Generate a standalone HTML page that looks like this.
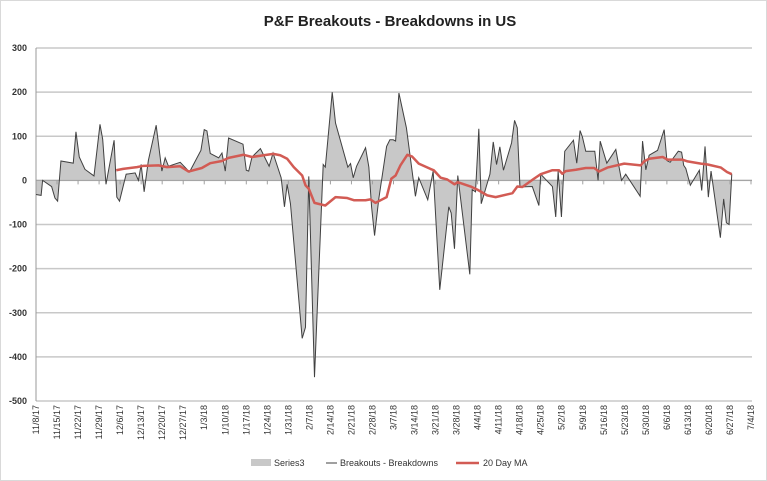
<!DOCTYPE html>
<html><head><meta charset="utf-8"><style>
body{margin:0;background:#fff;font-family:"Liberation Sans",sans-serif}
#wrap{position:relative;width:767px;height:481px;overflow:hidden}
svg text{font-family:"Liberation Sans",sans-serif}
</style></head><body>
<div id="wrap">
<svg id="chart" width="767" height="481">
<rect x="0.5" y="0.5" width="766" height="480" fill="#fff" stroke="#d9d9d9"/>
<text x="390" y="26" text-anchor="middle" font-size="15" font-weight="bold" fill="#222">P&amp;F Breakouts - Breakdowns in US</text>
<g id="grid"></g><g id="area"></g><g id="xaxis"></g><g id="yaxis"></g><g id="lines"></g>
<g>
<g><rect x="251" y="459" width="20" height="7" fill="#c8c8c8"/><text x="274" y="466" font-size="9" fill="#333">Series3</text></g>
<g><line x1="326" y1="463" x2="337" y2="463" stroke="#404040" stroke-width="1"/><text x="340" y="466" font-size="9" fill="#333">Breakouts - Breakdowns</text></g>
<g><line x1="456" y1="463" x2="479" y2="463" stroke="#d25b54" stroke-width="2.5"/><text x="483" y="466" font-size="9" fill="#333">20 Day MA</text></g>
</g>
</svg></div>
<script>
const seriesDays=[0,1.7,2.2,5.2,6.3,7.2,8.3,12.4,13.3,14.4,16.3,19.3,21.3,22.2,23.3,26,26.9,27.8,30,33,34.1,35,36,37.4,40,41.9,43,44.1,48,51.1,54.9,56,56.9,58,60.8,61.9,63,64.1,68.9,70,70.8,71.9,74.7,77.6,78.9,81.6,82.7,83.6,84.7,88.6,89.7,90.8,92.7,95.6,96.3,97.8,98.6,99.7,103.8,104.7,105.6,106.7,109.7,110.8,111.7,112.7,114.1,116.7,117.8,118.9,119.7,120.8,123.3,126.3,127.4,130.4,132.2,134.4,137.4,138.2,139.3,140.4,144.4,145.2,146.3,147.4,148.2,151.1,152.2,153.3,154.4,155.6,158.3,159.3,160.2,161.1,165.2,167.4,168,171.9,173,173.8,174.9,176,178.9,180,181.1,181.9,183,186,187.1,187.8,190,193,194.9,196.3,201.1,201.9,203,204.1,206.9,209.1,210,211.1,213.8,214.9,215.6,216.3,217.8,220.8,221.6,222.7,223.8,224.7,227.8,228.9,229.8,230.7,231.6];
const seriesValues=[-32,-34,0,-14,-40,-47,44,39,110,53,25,10,127,93,-9,91,-38,-47,14,17,0,36,-26,45,125,21,51,32,41,19,68,115,112,61,51,62,21,96,82,23,21,53,72,32,62,6,-60,-9,-53,-358,-333,9,-446,36,30,140,200,130,30,38,6,32,74,30,-60,-125,-42,77,92,92,89,198,119,-36,6,-44,21,-248,-60,-74,-155,11,-213,-21,-26,117,-53,14,87,36,76,23,85,136,119,-15,-14,-57,14,-14,-83,21,-83,66,91,39,113,98,66,66,0,89,39,70,0,14,-36,89,24,57,68,115,45,41,66,64,34,27,-11,23,-23,77,-38,21,-130,-42,-96,-100,14];
const maDays=[26.7,29,33.6,35.8,40.8,43.6,48,50.8,55.2,58,61.9,64.1,69.1,71.9,75.8,79,81.3,83.6,85.8,88.6,89.7,90.8,92.7,96.3,99.7,103.6,105.8,109.7,111.3,113,116.7,118.3,119.7,121.3,123.6,125.2,127.4,131.3,132.4,134.7,136.9,139.3,140.4,144.7,146.9,150.2,153,158.6,160.2,161.9,165.8,168,171.9,174.1,175.2,176.3,179.7,183,185.8,187.4,190.2,195.8,201.3,202.4,204.1,208.6,210.2,215.2,216.9,221.3,223.6,228,230,231.6];
const maValues=[23,26,30,33,34,30,32,20,28,39,44,51,58,53,57,60,57,49,30,11,-11,-19,-51,-57,-38,-40,-45,-45,-43,-51,-38,4,11,34,58,54,38,26,23,6,2,-9,-4,-14,-21,-34,-38,-29,-14,-15,4,14,23,23,15,21,24,28,28,20,29,38,34,43,49,53,47,47,43,38,36,29,19,14];
const xTickLabels=["11/8/17","11/15/17","11/22/17","11/29/17","12/6/17","12/13/17","12/20/17","12/27/17","1/3/18","1/10/18","1/17/18","1/24/18","1/31/18","2/7/18","2/14/18","2/21/18","2/28/18","3/7/18","3/14/18","3/21/18","3/28/18","4/4/18","4/11/18","4/18/18","4/25/18","5/2/18","5/9/18","5/16/18","5/23/18","5/30/18","6/6/18","6/13/18","6/20/18","6/27/18","7/4/18"];
const yTicks=[300,200,100,0,-100,-200,-300,-400,-500];
const NS="http://www.w3.org/2000/svg";
const X0=36,X1=751,DMAX=238,YT=48,YB=401,VMAX=300,VMIN=-500;
function xs(d){return X0+(d/DMAX)*(X1-X0);}
function ys(v){return YT+(VMAX-v)/(VMAX-VMIN)*(YB-YT);}
function mk(tag,attrs,parent){const e=document.createElementNS(NS,tag);for(const k in attrs)e.setAttribute(k,attrs[k]);parent.appendChild(e);return e;}
const grid=document.getElementById('grid'),yax=document.getElementById('yaxis'),xax=document.getElementById('xaxis');
yTicks.forEach(v=>{
 const l=mk('line',{x1:X0,x2:752,y1:ys(v),y2:ys(v),stroke:'#c8c8c8','stroke-width':1.5},grid);
 
 
 const t=mk('text',{x:27,y:ys(v)+3,'text-anchor':'end','font-size':9,'font-weight':'bold',fill:'#333'},yax);
 t.textContent=v;
 
 
});
const ya=mk('line',{x1:X0,x2:X0,y1:YT,y2:YB,stroke:'#999'},yax);


let dA='M'+xs(seriesDays[0])+','+ys(0);
seriesDays.forEach((d,i)=>{dA+=' L'+xs(d)+','+ys(seriesValues[i]);});
dA+=' L'+xs(seriesDays[seriesDays.length-1])+','+ys(0)+' Z';
const ar=mk('path',{d:dA,fill:'#c8c8c8'},document.getElementById('area'));


const za=mk('line',{x1:X0,x2:752,y1:ys(0),y2:ys(0),stroke:'#a0a0a0'},xax);


xTickLabels.forEach((lab,i)=>{
 const x=xs(i*7);
 const tk=mk('line',{x1:x,x2:x,y1:ys(0),y2:ys(0)+4,stroke:'#a0a0a0'},xax);
 
 
 const t=mk('text',{x:0,y:0,'text-anchor':'end','font-size':9,fill:'#333',transform:'translate('+(x+3)+',405) rotate(-90)'},xax);
 t.textContent=lab;
 
 
});
const lines=document.getElementById('lines');
const p1=mk('polyline',{points:seriesDays.map((d,i)=>xs(d)+','+ys(seriesValues[i])).join(' '),fill:'none',stroke:'#404040','stroke-width':1},lines);


const p2=mk('polyline',{points:maDays.map((d,i)=>xs(d)+','+ys(maValues[i])).join(' '),fill:'none',stroke:'#d25b54','stroke-width':2.5,'stroke-linejoin':'round'},lines);


</script>
</body></html>
